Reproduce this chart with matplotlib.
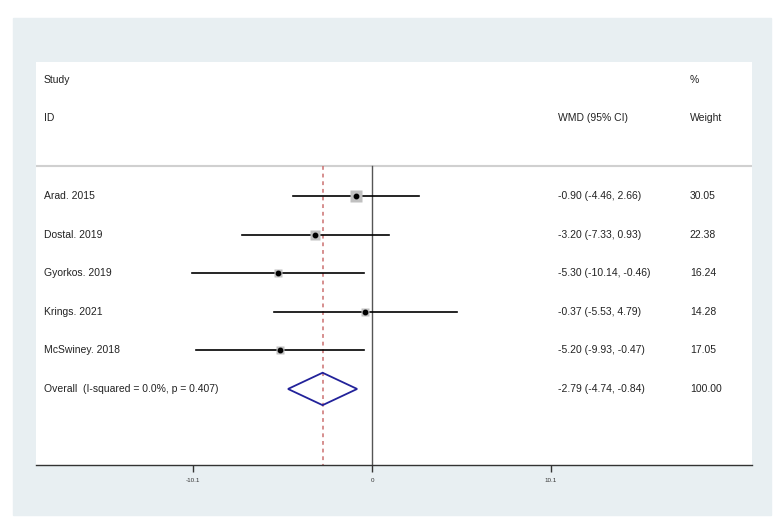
import matplotlib
matplotlib.use("Agg")
import matplotlib.pyplot as plt
from matplotlib.patches import Rectangle, Polygon
import numpy as np

plt.rcParams['font.family'] = ['Liberation Sans', 'DejaVu Sans']

studies = ["Arad. 2015", "Dostal. 2019", "Gyorkos. 2019", "Krings. 2021", "McSwiney. 2018"]
wmd = [-0.90, -3.20, -5.30, -0.37, -5.20]
lo = [-4.46, -7.33, -10.14, -5.53, -9.93]
hi = [2.66, 0.93, -0.46, 4.79, -0.47]
weights = [30.05, 22.38, 16.24, 14.28, 17.05]
overall_label = "Overall  (I-squared = 0.0%, p = 0.407)"
overall = -2.79
overall_lo = -4.74
overall_hi = -0.84
overall_weight = 100.00
xticks = [-10.1, 0, 10.1]
xticklabels = ["-10.1", "0", "10.1"]

W, H = 784, 528
fig = plt.figure(figsize=(W/100, H/100), dpi=100)
fig.patch.set_facecolor("white")
fig.patches.append(Rectangle((13/W, 1-515/H), (771-13)/W, (515-18)/H,
                             transform=fig.transFigure, color="#e8eff2", zorder=-10))

ax = fig.add_axes([36/W, 1-465/H, (752-36)/W, (465-62)/H])
ax.set_zorder(5)
ax.set_facecolor("white")
ax.set_xlim(-18.96, 21.44)
ax.set_ylim(6.97, -3.47)
for s in ["top", "left", "right"]:
    ax.spines[s].set_visible(False)
ax.spines["bottom"].set_color("#333333")
ax.spines["bottom"].set_linewidth(1.0)
ax.set_yticks([])
ax.set_xticks(xticks)
ax.set_xticklabels(xticklabels, fontsize=4.5, color="#333333")
ax.tick_params(axis="x", direction="out", length=5, width=1, color="#333333", pad=4)

fs = 7.5
tc = "#222222"
hdr_line = -0.78
yt = ax.get_yaxis_transform()
x_lab, x_est, x_w = 0.011, 0.729, 0.913

ax.text(x_lab, -3.0, "Study", transform=yt, fontsize=fs, va="center", color=tc)
ax.text(x_lab, -2.02, "ID", transform=yt, fontsize=fs, va="center", color=tc)
ax.text(x_est, -2.02, "WMD (95% CI)", transform=yt, fontsize=fs, va="center", color=tc)
ax.text(x_w, -3.0, "%", transform=yt, fontsize=fs, va="center", color=tc)
ax.text(x_w, -2.02, "Weight", transform=yt, fontsize=fs, va="center", color=tc)
ax.axhline(hdr_line, color="#d0d0d0", lw=1.5, zorder=1)

ax.plot([0, 0], [hdr_line, 6.97], color="#555555", lw=1.0, zorder=2)
ax.plot([overall, overall], [hdr_line, 6.97], color="#cc7070", lw=1.1,
        ls=(0, (2.5, 2.5)), zorder=2)

for i, (name, e, l, h, w) in enumerate(zip(studies, wmd, lo, hi, weights)):
    ax.plot([l, h], [i, i], color="black", lw=1.2, zorder=3)
    ax.plot(e, i, marker="s", ms=8*np.sqrt(w/30.05), color="#c0c0c0",
            mec="none", zorder=3)
    ax.plot(e, i, marker="o", ms=3.2, color="black", zorder=4)
    ax.text(x_lab, i, name, transform=yt, fontsize=fs, va="center", color=tc)
    ax.text(x_est, i, f"{e:.2f} ({l:.2f}, {h:.2f})", transform=yt, fontsize=fs,
            va="center", color=tc)
    ax.text(x_w, i, f"{w:.2f}", transform=yt, fontsize=fs, va="center", color=tc)

io = len(studies)
dh = 0.42
diamond = Polygon([[overall_lo, io], [overall, io - dh], [overall_hi, io], [overall, io + dh]],
                  closed=True, fill=False, edgecolor="#22229a", lw=1.3, zorder=5)
ax.add_patch(diamond)
ax.text(x_lab, io, overall_label, transform=yt, fontsize=fs, va="center", color=tc)
ax.text(x_est, io, f"{overall:.2f} ({overall_lo:.2f}, {overall_hi:.2f})", transform=yt,
        fontsize=fs, va="center", color=tc)
ax.text(x_w, io, f"{overall_weight:.2f}", transform=yt, fontsize=fs, va="center", color=tc)

fig.savefig("out.png", dpi=100, facecolor="white")
